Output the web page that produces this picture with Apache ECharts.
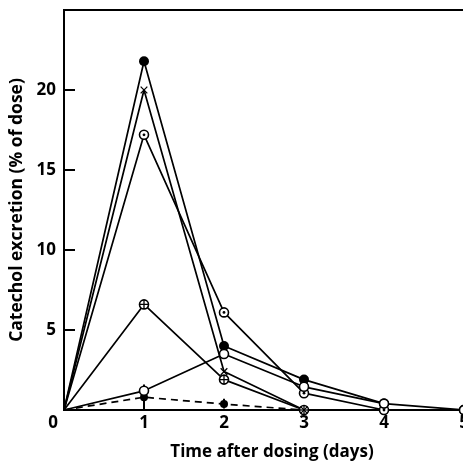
<!DOCTYPE html>
<html>
<head>
<meta charset="utf-8">
<script src="https://cdn.jsdelivr.net/npm/echarts@6/dist/echarts.min.js"></script>
<style>
  html, body { margin: 0; padding: 0; background: #fff; }
  #container { width: 463px; height: 463px; }
</style>
</head>
<body>
<div id="container"></div>
<script>
// days after dosing
var days = [0, 1, 2, 3, 4, 5];

// catechol excretion (% of dose), one array per subject
var filledVals = [0, 21.8, 4.0, 1.9, 0.4];
var crossVals = [0, 20.0, 2.4, 0];
var dotCircleVals = [0, 17.2, 6.1, 1.05, 0, 0];
var openVals = [0, 1.2, 3.5, 1.45, 0.4, 0];
var plusCircleVals = [0, 6.6, 1.9, 0];
var dashedVals = [0, 0.8, 0.37, 0];

// error bars on the dashed series
var errDays = [1, 2];
var errLow = [0, 0.1];
var errHigh = [1.6, 0.7];

var yTicks = [5, 10, 15, 20];

function svgSymbol(inner) {
    var svg = "<svg xmlns='http://www.w3.org/2000/svg' width='24' height='24' viewBox='0 0 24 24'>" + inner + "</svg>";
    return 'image://data:image/svg+xml;charset=utf-8,' + encodeURIComponent(svg);
}
var ring = "<circle cx='12' cy='12' r='9' fill='white' stroke='black' stroke-width='3.2'/>";
var symOpen = svgSymbol(ring);
var symDot = svgSymbol(ring + "<circle cx='12' cy='12' r='2.8' fill='black'/>");
var symPlus = svgSymbol(ring + "<line x1='12' y1='3' x2='12' y2='21' stroke='black' stroke-width='2.6'/><line x1='3' y1='12' x2='21' y2='12' stroke='black' stroke-width='2.6'/>");
var symCross = svgSymbol("<line x1='4' y1='4' x2='20' y2='20' stroke='black' stroke-width='3'/><line x1='20' y1='4' x2='4' y2='20' stroke='black' stroke-width='3'/>");

function pairs(vals) {
    return vals.map(function (v, i) {
        var p = { value: [days[i], v] };
        if (i == 0) {
            p.symbol = 'none';
        }
        return p;
    });
}

function lineSeries(vals, symbol, size, dashed) {
    return {
        type: 'line',
        data: pairs(vals),
        symbol: symbol,
        symbolSize: size,
        showSymbol: true,
        itemStyle: { color: '#000' },
        lineStyle: { color: '#000', width: 1.7, type: dashed ? [7, 5] : 'solid' },
        animation: false
    };
}

var dom = document.getElementById('container');
var chart = echarts.init(dom, null, { renderer: 'canvas' });

var fontFam = '"Open Sans", Lato, sans-serif';

var option = {
    backgroundColor: '#fff',
    animation: false,
    grid: {
        left: 64,
        top: 10,
        width: 416,
        height: 400,
        show: true,
        borderColor: '#000',
        borderWidth: 2,
        containLabel: false,
        outerBoundsMode: 'none'
    },
    xAxis: {
        type: 'value',
        min: 0,
        max: 5.2,
        interval: 1,
        name: 'Time after dosing (days)',
        nameLocation: 'middle',
        nameGap: 34,
        nameTextStyle: { color: '#000', fontFamily: fontFam, fontWeight: 'bold', fontSize: 17 },
        axisLine: { lineStyle: { color: '#000', width: 2 } },
        axisTick: { show: false },
        splitLine: { show: false },
        axisLabel: {
            color: '#000',
            fontFamily: fontFam,
            fontWeight: 'bold',
            fontSize: 17,
            margin: 5,
            formatter: function (v) {
                if (days.indexOf(v) < 0) return '';
                return v == 0 ? '{o|0}' : String(v);
            },
            rich: {
                o: { fontFamily: fontFam, fontWeight: 'bold', fontSize: 17, color: '#000', padding: [0, 22, 0, 0] }
            }
        }
    },
    yAxis: {
        type: 'value',
        min: 0,
        max: 25,
        interval: 5,
        name: 'Catechol excretion (% of dose)',
        nameLocation: 'middle',
        nameGap: 37,
        nameTextStyle: { color: '#000', fontFamily: fontFam, fontWeight: 'bold', fontSize: 17.5 },
        axisLine: { show: true, lineStyle: { color: '#000', width: 2 } },
        axisTick: {
            show: true,
            inside: true,
            length: 11,
            lineStyle: { color: '#000', width: 2 },
            customValues: yTicks
        },
        splitLine: { show: false },
        axisLabel: {
            color: '#000',
            fontFamily: fontFam,
            fontWeight: 'bold',
            fontSize: 17,
            margin: 8,
            formatter: function (v) {
                return yTicks.indexOf(v) >= 0 ? String(v) : '';
            }
        }
    },
    series: [
        {
            type: 'custom',
            data: errDays.map(function (d, i) { return [d, errLow[i], errHigh[i]]; }),
            renderItem: function (params, api) {
                var lo = api.coord([api.value(0), api.value(1)]);
                var hi = api.coord([api.value(0), api.value(2)]);
                return {
                    type: 'line',
                    shape: { x1: lo[0], y1: lo[1], x2: hi[0], y2: hi[1] },
                    style: { stroke: '#000', lineWidth: 2 }
                };
            },
            animation: false
        },
        lineSeries(dashedVals, 'circle', 8, true),
        lineSeries(plusCircleVals, symPlus, 12, false),
        lineSeries(crossVals, symCross, 10, false),
        lineSeries(filledVals, 'circle', 10, false),
        lineSeries(dotCircleVals, symDot, 12, false),
        lineSeries(openVals, symOpen, 12, false)
    ]
};

chart.setOption(option, true);
window.addEventListener('resize', chart.resize);
</script>
</body>
</html>
